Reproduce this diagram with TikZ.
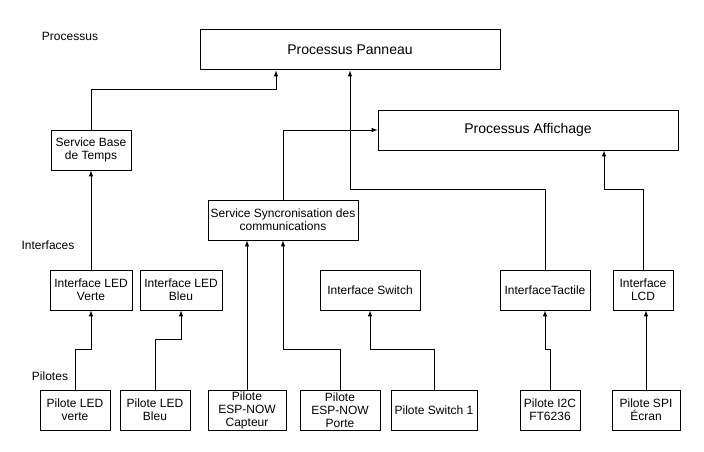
\documentclass[tikz,border=0pt]{standalone}
\usepackage{fontspec}
\setmainfont{Liberation Sans}
\begin{document}
\begin{tikzpicture}[x=1pt,y=-1pt,line width=1pt,
  font=\fontsize{12}{13}\selectfont,
  box/.style={draw, inner sep=0pt, minimum height=40pt, align=center},
  big/.style={box, minimum width=300pt, font=\fontsize{14}{16}\selectfont},
  arr/.style={-latex}]
\useasboundingbox (0,0) rectangle (704,452);
% processus
\node[big] (panneau) at (350,50) {Processus Panneau};
\node[big] (affichage) at (528,130) {Processus Affichage};
% services
\node[box, minimum width=80pt] (base) at (91,150) {Service Base\\de Temps};
\node[box, minimum width=150pt] (sync) at (283,220) {Service Syncronisation des\\communications};
% interfaces
\node[box, minimum width=82pt] (ledverte) at (91,290) {Interface LED\\Verte};
\node[box, minimum width=82pt] (ledbleu) at (181,290) {Interface LED\\Bleu};
\node[box, minimum width=100pt] (switch) at (370,290) {Interface Switch};
\node[box, minimum width=90pt] (tactile) at (545,290) {InterfaceTactile};
\node[box, minimum width=60pt] (lcd) at (643,290) {Interface\\LCD};
% pilotes
\node[box, minimum width=70pt] (pverte) at (75,410) {Pilote LED\\verte};
\node[box, minimum width=70pt] (pbleu) at (155,410) {Pilote LED\\Bleu};
\node[box, minimum width=78pt] (pcapteur) at (247,410) {Pilote\\ESP-NOW\\Capteur};
\node[box, minimum width=80pt] (pporte) at (340,410) {Pilote\\ESP-NOW\\Porte};
\node[box, minimum width=86pt] (pswitch) at (434,410) {Pilote Switch 1};
\node[box, minimum width=60pt] (pi2c) at (550,410) {Pilote I2C\\FT6236};
\node[box, minimum width=68pt] (pspi) at (646,410) {Pilote SPI\\Écran};
% couches
\node (lprocessus) at (70,36) {Processus};
\node (linterfaces) at (48,245) {Interfaces};
\node (lpilotes) at (50,376) {Pilotes};
% liens
\draw[arr] (base.north) -- ++(0,-40) -| ([xshift=-74pt]panneau.south);
\draw[arr] (ledverte.north) -- (base.south);
\draw[arr] (pverte.north) -- ++(0,-40) -| (ledverte.south);
\draw[arr] (pbleu.north) -- ++(0,-50) -| (ledbleu.south);
\draw[arr] (sync.north) |- (affichage.west);
\draw[arr] (pcapteur.north) -- ([xshift=-36pt]sync.south);
\draw[arr] (pporte.north) -- ++(0,-40) -| (sync.south);
\draw[arr] (pswitch.north) -- ++(0,-40) -| (switch.south);
\draw[arr] (tactile.north) -- ++(0,-80) -| (panneau.south);
\draw[arr] (pi2c.north) -- ++(0,-40) -| (tactile.south);
\draw[arr] (lcd.north) -- ++(0,-80) -| ([xshift=76pt]affichage.south);
\draw[arr] (pspi.north) -- (pspi.north |- lcd.south);
\end{tikzpicture}
\end{document}
